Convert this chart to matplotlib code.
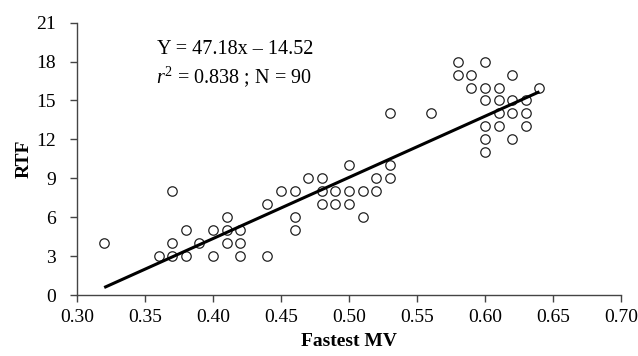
import numpy as np
import matplotlib
matplotlib.use("Agg")
import matplotlib.pyplot as plt

plt.rcParams["font.family"] = ["Liberation Serif", "DejaVu Serif"]
plt.rcParams["mathtext.fontset"] = "custom"
plt.rcParams["mathtext.rm"] = "Liberation Serif"
plt.rcParams["mathtext.it"] = "Liberation Serif:italic"

# fastest MV (x) vs RTF (y)
fastest_mv = [0.32, 0.36, 0.37, 0.37, 0.37, 0.38, 0.38, 0.39, 0.40, 0.40,
              0.41, 0.41, 0.41, 0.42, 0.42, 0.42, 0.44, 0.44, 0.45, 0.46,
              0.46, 0.46, 0.47, 0.48, 0.48, 0.48, 0.49, 0.49, 0.50, 0.50,
              0.50, 0.51, 0.51, 0.52, 0.52, 0.53, 0.53, 0.53, 0.56, 0.58,
              0.58, 0.59, 0.59, 0.60, 0.60, 0.60, 0.60, 0.60, 0.60, 0.61,
              0.61, 0.61, 0.61, 0.62, 0.62, 0.62, 0.62, 0.63, 0.63, 0.63,
              0.64]
rtf = [4, 3, 3, 4, 8, 3, 5, 4, 3, 5,
       4, 5, 6, 3, 4, 5, 3, 7, 8, 5,
       6, 8, 9, 9, 8, 7, 8, 7, 10, 8,
       7, 8, 6, 8, 9, 9, 10, 14, 14, 18,
       17, 17, 16, 18, 16, 15, 13, 12, 11, 16,
       15, 14, 13, 17, 15, 14, 12, 15, 14, 13,
       16]

slope = 47.18
intercept = -14.52
fit_range = [0.32, 0.64]

x_ticks = [0.30, 0.35, 0.40, 0.45, 0.50, 0.55, 0.60, 0.65, 0.70]
y_ticks = [0, 3, 6, 9, 12, 15, 18, 21]

fig = plt.figure(figsize=(6.38, 3.56), dpi=100)
ax = fig.add_axes([0.1207, 0.1713, 0.8527, 0.765])

ax.plot(fastest_mv, rtf, linestyle="none", marker="o", markersize=6.8,
        markerfacecolor="white", markeredgecolor="#222222", markeredgewidth=0.9,
        zorder=3)

fx = np.array(fit_range)
ax.plot(fx, slope * fx + intercept, color="black", linewidth=2.2,
        solid_capstyle="butt", zorder=4)

ax.text(0.4165, 18.58, "Y = 47.18x \u2013 14.52", ha="center", va="baseline",
        fontsize=14.5)
ax.text(0.4155, 16.32, r"$r^{2}$ = 0.838 ; N = 90", ha="center", va="baseline",
        fontsize=14.5)

ax.set_xlim(0.30, 0.70)
ax.set_ylim(0, 21)
ax.set_xticks(x_ticks)
ax.set_xticklabels(["%.2f" % v for v in x_ticks])
ax.set_yticks(y_ticks)

for s in ["top", "right"]:
    ax.spines[s].set_visible(False)
for s in ["left", "bottom"]:
    ax.spines[s].set_color("#444444")
    ax.spines[s].set_linewidth(1.0)

ax.tick_params(axis="x", direction="out", length=5, width=1, color="#444444",
               labelsize=14, pad=5)
ax.tick_params(axis="y", direction="out", length=5, width=1, color="#444444",
               labelsize=14, pad=10)

ax.set_xlabel("Fastest MV", fontsize=14, fontweight="bold", labelpad=5)
ax.set_ylabel("RTF", fontsize=14, fontweight="bold", labelpad=3)

fig.savefig("out.png", dpi=100)
